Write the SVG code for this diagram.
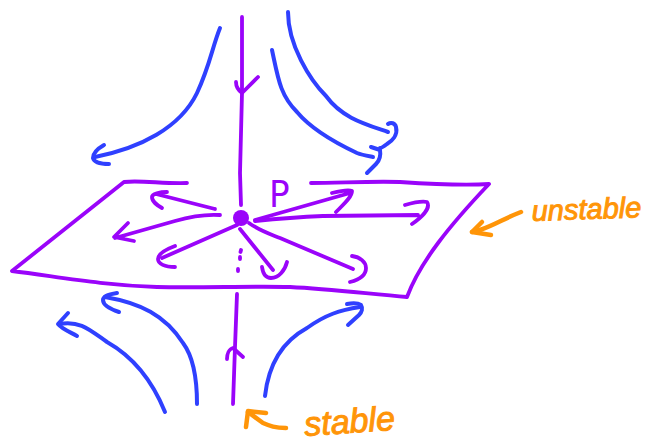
<svg xmlns="http://www.w3.org/2000/svg" width="649" height="444" viewBox="0 0 649 444">
<style>
path{fill:none;stroke-linecap:round;stroke-linejoin:round}
.p{stroke:#9a04fa;stroke-width:3.8}
.b{stroke:#2f40ff;stroke-width:4}
.o{stroke:#ff9508;stroke-width:4.5}
.lab{font-family:"Liberation Sans",Arial,sans-serif;fill:#ff9508;stroke:#ff9508;stroke-width:1;font-style:italic}
</style>
<rect width="649" height="444" fill="#fff"/>
<g id="plane">
<path class="p" d="M187 183C165 184 140 180 124 182L12 271C60 277 100 285 157 287C200 288 250 286 290 287C330 289 370 294 407 297C420 262 450 225 489 184C460 186 430 184 400 182C370 181 340 183 311 183"/>
</g>
<g id="connectors">
<g class="flow-purple">
<path class="p" d="M242 17L242 93L240 173L241 205"/>
<path class="p" d="M258 77L242 93C238 90 236 87 236 82"/>
<path class="p" d="M237 294L235 347L233 404"/>
<path class="p" d="M227 359C227 354 229 349 233 348L243 357"/>
<path class="p" d="M215 209C195 204 175 199 156 194M167 192C160 192 152 194 152 197C152 202 157 205 162 208"/>
<path class="p" d="M220 215C205 214 192 216 175 221L115 238M128 223L114 237L134 241"/>
<path class="p" d="M237 225L162 258M175 246C167 249 158 253 158 259C158 264 165 267 175 267"/>
<path class="p" d="M240 229L273 270M262 267C263 274 266 278 271 278C279 278 285 270 287 262"/>
<path class="p" d="M249 223C260 231 270 234 280 238L353 269M352 256C360 257 366 262 366 268C366 276 358 280 350 282"/>
<path class="p" d="M255 220L350 193M332 193C340 191 348 189 352 191C352 197 344 204 336 212"/>
<path class="p" d="M255 221C275 219 300 217 323 216L418 215M405 205C412 203 422 201 427 202C431 208 422 217 412 224"/>
<path class="p" d="M241 250L240.500 252M240 257L240 259M238 269L238 271"/>
</g>
<g class="flow-blue">
<path class="b" d="M220 28C212 48 210 65 197 93C180 128 140 148 95 157"/>
<path class="b" d="M104 145C97 149 93 154 93 158C94 162 100 164 109 164"/>
<path class="b" d="M288 12C288 45 310 80 326 96C342 118 365 124 388 132"/>
<path class="b" d="M388 124C391 122 395 123 396 127C398 135 392 141 387 144C383 147 381 148 380 148"/>
<path class="b" d="M272 50C278 78 280 95 297 112C312 130 340 145 357 153C362 155 368 156 373 157"/>
<path class="b" d="M371 147L380 150C381 156 380 160 376 164L367 173"/>
<path class="b" d="M165 412C150 375 130 355 107 342C90 330 80 320 59 324"/>
<path class="b" d="M68 313L58 324C62 329 70 332 77 336"/>
<path class="b" d="M197 404C197 375 192 355 183 343C165 315 140 303 105 297"/>
<path class="b" d="M117 293C110 294 103 296 103 300C103 305 110 309 119 312"/>
<path class="b" d="M265 396C269 360 285 340 307 328C325 315 340 310 360 307"/>
<path class="b" d="M347 304C352 303 358 303 361 305C363 308 362 312 359 315L348 325"/>
</g>
<g class="pointers">
<path class="o" d="M521 212C505 218 495 225 480 230L472 232"/>
<path class="o" d="M482 222L472 232L491 235"/>
<path class="o" d="M286 428C275 428 270 426 263 423L248 412"/>
<path class="o" d="M266 413L248 411L246 427"/>
</g>
</g>
<g id="node-P">
<circle cx="241" cy="218" r="8" fill="#9a04fa"/>
<text x="269" y="207" font-family="'DejaVu Sans Condensed','Liberation Sans',Arial,sans-serif" font-size="38" fill="#9a04fa">P</text>
</g>
<g id="label-unstable">
<text class="lab" x="532" y="221" font-size="29" transform="rotate(-2 532 221)">unstable</text>
</g>
<g id="label-stable">
<text class="lab" x="305" y="436" font-size="34" transform="rotate(-4 305 436)">stable</text>
</g>
</svg>
